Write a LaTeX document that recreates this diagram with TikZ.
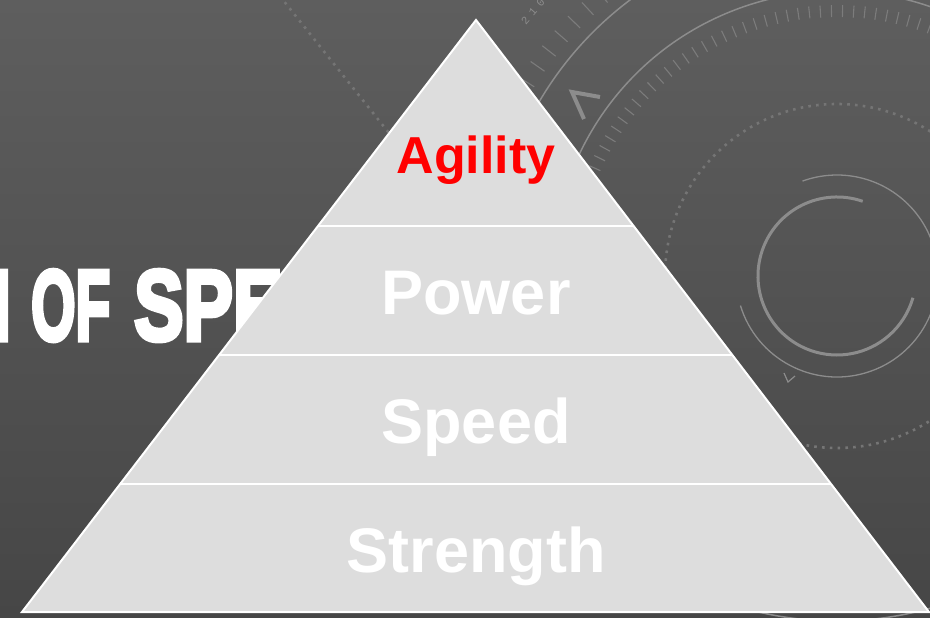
\documentclass[tikz,border=0pt]{standalone}
\usepackage{fontspec}
\setmainfont{Liberation Sans}
\newfontfamily\dialfont{Liberation Mono}
\newfontfamily\headfont[FakeBold=5]{Liberation Sans Bold}
\usetikzlibrary{calc}

\definecolor{bgtop}{HTML}{5E5E5E}
\definecolor{bgbot}{HTML}{464646}
\definecolor{dialline}{HTML}{8C8C8C}
\definecolor{dialtick}{HTML}{7C7C7C}
\definecolor{dotcol}{HTML}{757575}
\definecolor{pyrfill}{HTML}{DDDDDD}
\definecolor{agilred}{HTML}{FF0000}

\tikzset{
  ring/.style={draw=dialline, line width=1.5pt},
  ringtick/.style={draw=dialtick, line width=1.1pt},
  dotring/.style={draw=dotcol, line width=2.6pt, dash pattern=on 2.6pt off 5.2pt},
  chevron/.style={draw=dialline, line width=4pt, line join=miter},
  tier/.style={draw=white, line width=2pt},
  tierlabel/.style={anchor=base, inner sep=0pt, text=white,
    font=\bfseries\fontsize{63}{63}\selectfont},
  heading/.style={inner sep=0pt, text=white,
    font=\headfont\fontsize{100}{100}\selectfont}
}

\begin{document}
\begin{tikzpicture}[x=1pt,y=-1pt]
\useasboundingbox (0,0) rectangle (930,618);
\begin{scope}
\clip (0,0) rectangle (930,618);

% background
\shade[top color=bgtop, bottom color=bgbot] (0,0) rectangle (930,618);

% diagonal dotted guide
\coordinate (g1) at (275,-10);
\coordinate (g2) at (440,197);
\draw[dotring] (g1) -- (g2);

% dial rings, angles measured counter-clockwise
\begin{scope}[shift={(837,276)}, yscale=-1]
  \draw[ring] (0,0) circle (345);
  \draw[ring] (20:285) arc[start angle=20, end angle=250, radius=285];
  \foreach \a in {19.2,21.6,...,250}
    \draw[ringtick] (\a:259) -- (\a:271);
  \foreach \a in {100,103,...,175}
    \draw[ringtick] (\a:357) -- (\a:374);
  \node[text=dialline, rotate=49, inner sep=0pt,
        font=\dialfont\fontsize{11}{11}\selectfont] (deg) at (139:403)
        {2\kern5pt1\kern5pt0};
  \draw[dotring] (0,0) circle (172);
  \draw[draw=dialline, line width=3pt] (71:79) arc[start angle=71, end angle=344, radius=79];
  \draw[draw=dialline, line width=1.3pt] (-163:101) arc[start angle=-163, end angle=110, radius=101];
\end{scope}

% chevron marks on the rings
\coordinate (c1) at (600,97);
\coordinate (c2) at (572,92);
\coordinate (c3) at (584,119);
\draw[chevron] (c1) -- (c2) -- (c3);
\coordinate (v1) at (784,373);
\coordinate (v2) at (788,382);
\coordinate (v3) at (795,376);
\draw[draw=dialline, line width=1.2pt] (v1) -- (v2) -- (v3);

% heading behind the pyramid
\node[heading, anchor=base east] (titleA) at (11,340) {\scalebox{0.62}[1]{H}};
\node[heading, anchor=base west] (titleB) at (31,340) {\scalebox{0.57}[1]{OF}};
\node[heading, anchor=base west] (titleC) at (134,340) {\scalebox{0.74}[1]{SPEED}};

% pyramid
\coordinate (apex) at (476,20);
\coordinate (bl) at (22,612);
\coordinate (br) at (929,612);
\fill[pyrfill] (apex) -- (bl) -- (br) -- cycle;
\foreach \t/\n in {0.348/a, 0.5659/b, 0.7838/c}{
  \coordinate (l\n) at ($(apex)!\t!(bl)$);
  \coordinate (r\n) at ($(apex)!\t!(br)$);
}
\draw[tier] (la) -- (ra);
\draw[tier] (lb) -- (rb);
\draw[tier] (lc) -- (rc);
\draw[tier, line join=miter] (apex) -- (bl) -- (br) -- cycle;

% tier labels
\node[tierlabel, text=agilred, font=\bfseries\fontsize{52}{52}\selectfont] (agility) at (476,173) {Agility};
\node[tierlabel] (power) at (476,314) {Power};
\node[tierlabel] (speed) at (476,443) {Speed};
\node[tierlabel] (strength) at (476,572) {Strength};
\end{scope}
\end{tikzpicture}
\end{document}
